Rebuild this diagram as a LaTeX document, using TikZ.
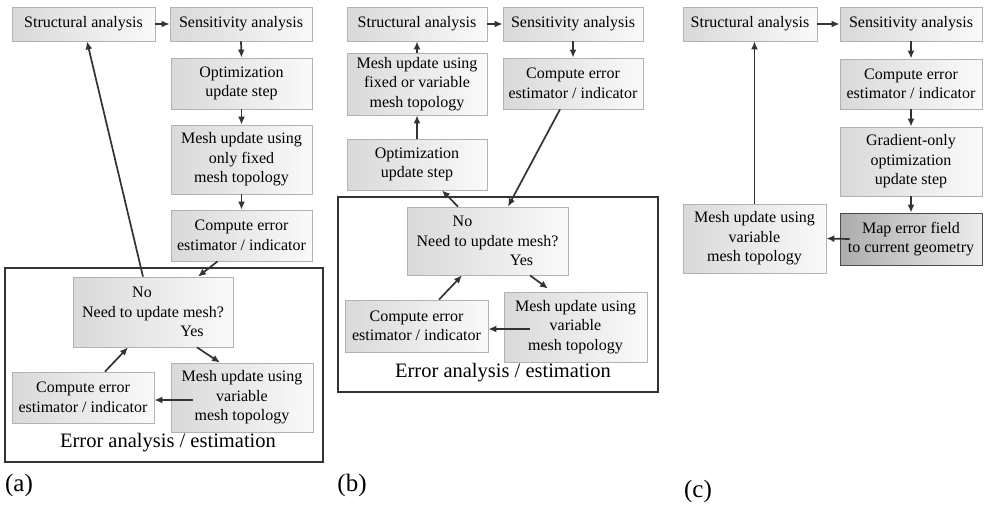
\documentclass[tikz,border=0pt]{standalone}
\usepackage{fontspec}
\setmainfont{Liberation Serif}
\usetikzlibrary{arrows.meta,calc}
\newcommand{\boxfont}{\rmfamily\fontsize{16}{19.5}\selectfont}
\newcommand{\bigfont}{\rmfamily\fontsize{20.5}{24}\selectfont}
\newcommand{\labfont}{\rmfamily\fontsize{25}{28}\selectfont}
\tikzset{
  fbox/.style={draw=gray!60, line width=0.8pt, left color=gray!30, right color=gray!4,
    font=\boxfont, align=center, inner sep=1pt, text=black},
  darkbox/.style={fbox, draw=black!70, left color=gray!65, right color=gray!15},
  arr/.style={-{Latex[length=8pt,width=7pt]}, line width=1.7pt, draw=black!80},
  frame/.style={draw=black!80, line width=1.8pt},
  etext/.style={font=\bigfont, inner sep=0pt},
  ltext/.style={font=\labfont, inner sep=0pt}
}
\begin{document}
\begin{tikzpicture}[x=1pt,y=-1pt]
\useasboundingbox[fill=white] (0,0) rectangle (987,507);

% ---------------- (a) ----------------
\draw[frame] (5,268) rectangle (323,462);
\node[fbox, minimum width=143pt, minimum height=34pt] (sa1) at (83.5,24) {Structural analysis};
\node[fbox, minimum width=142pt, minimum height=34pt] (sens1) at (241,24) {Sensitivity analysis};
\node[fbox, minimum width=141pt, minimum height=51pt] (op1) at (241.5,83.5) {Optimization\\update step};
\node[fbox, minimum width=141pt, minimum height=69pt] (mo1) at (241.5,159.5) {Mesh update using\\only fixed\hspace*{34pt}\\mesh topology};
\node[fbox, minimum width=141pt, minimum height=51pt] (ce1) at (241.5,235.5) {Compute error\\estimator / indicator};
\node[fbox, minimum width=160pt, minimum height=70pt] (need1) at (153,312) {No\hspace*{22pt}\\Need to update mesh?\\\hspace*{78pt}Yes};
\node[fbox, minimum width=142pt, minimum height=51pt] (ci1) at (83,397.5) {Compute error\\estimator / indicator};
\node[fbox, minimum width=142pt, minimum height=69pt] (mv1) at (242,397.5) {Mesh update using\\variable\hspace*{10pt}\\mesh topology};
\node[etext] (ea1) at (168,443) {Error analysis / estimation};
\node[ltext] (la) at (19,485) {(a)};

\draw[arr] (sa1.east) -- (sens1.west);
\draw[arr] (sens1.south) -- (op1.north);
\draw[arr] (op1.south) -- (mo1.north);
\draw[arr] (mo1.south) -- (ce1.north);
\draw[arr] ([xshift=-24pt]ce1.south) -- ([xshift=45pt]need1.north);
\draw[arr] ([xshift=-10pt]need1.north) -- ([xshift=3.5pt]sa1.south);
\draw[arr] ([xshift=44pt]need1.south) -- ([xshift=-22pt]mv1.north);
\draw[arr] ([xshift=22pt,yshift=-2.5pt]mv1.west) -- ([yshift=-2.5pt]ci1.east);
\draw[arr] ([xshift=22pt]ci1.north) -- ([xshift=-25pt]need1.south);

% ---------------- (b) ----------------
\draw[frame] (338,197) rectangle (658,392);
\node[fbox, minimum width=140pt, minimum height=34pt] (sa2) at (417,24) {Structural analysis};
\node[fbox, minimum width=140pt, minimum height=34pt] (sens2) at (573,24) {Sensitivity analysis};
\node[fbox, minimum width=140pt, minimum height=62pt] (mf2) at (417,84) {Mesh update using\\fixed or variable\\mesh topology};
\node[fbox, minimum width=140pt, minimum height=51pt] (op2) at (417,164.5) {Optimization\\update step};
\node[fbox, minimum width=140pt, minimum height=51pt] (ce2) at (573,83.5) {Compute error\\estimator / indicator};
\node[fbox, minimum width=161pt, minimum height=68pt] (need2) at (487.5,241) {No\hspace*{50pt}\\Need to update mesh?\\\hspace*{68pt}Yes};
\node[fbox, minimum width=143pt, minimum height=52pt] (ci2) at (416.5,326) {Compute error\\estimator / indicator};
\node[fbox, minimum width=143pt, minimum height=70pt] (mv2) at (575.5,327) {Mesh update using\\variable\\mesh topology};
\node[etext] (ea2) at (503,373) {Error analysis / estimation};
\node[ltext] (lb) at (352,485) {(b)};

\draw[arr] (sa2.east) -- (sens2.west);
\draw[arr] (sens2.south) -- (ce2.north);
\draw[arr] (op2.north) -- (mf2.south);
\draw[arr] (mf2.north) -- (sa2.south);
\draw[arr] ([xshift=-13pt]ce2.south) -- ([xshift=20.5pt]need2.north);
\draw[arr] ([xshift=-29.5pt]need2.north) -- ([xshift=25pt]op2.south);
\draw[arr] ([xshift=42.5pt]need2.south) -- ([xshift=-27.5pt,yshift=3pt]mv2.north);
\draw[arr] ([xshift=26pt,yshift=-2pt]mv2.west) -- ([yshift=-3pt]ci2.east);
\draw[arr] ([xshift=22.5pt]ci2.north) -- ([xshift=-25.5pt]need2.south);

% ---------------- (c) ----------------
\node[fbox, minimum width=134pt, minimum height=34pt] (sa3) at (750,24) {Structural analysis};
\node[fbox, minimum width=142pt, minimum height=34pt] (sens3) at (911,24) {Sensitivity analysis};
\node[fbox, minimum width=142pt, minimum height=50pt] (ce3) at (911,84) {Compute error\\estimator / indicator};
\node[fbox, minimum width=142pt, minimum height=69pt] (go3) at (911,161.5) {Gradient-only\\optimization\\update step};
\node[darkbox, minimum width=142pt, minimum height=52pt] (me3) at (911,239) {Map error field\\to current geometry};
\node[fbox, minimum width=143pt, minimum height=69pt] (mv3) at (754.5,238.5) {Mesh update using\\variable\\mesh topology};
\node[ltext] (lc) at (698,491) {(c)};

\draw[arr] (sa3.east) -- (sens3.west);
\draw[arr] (sens3.south) -- (ce3.north);
\draw[arr] (ce3.south) -- (go3.north);
\draw[arr] (go3.south) -- (me3.north);
\draw[arr] ([xshift=10pt]me3.west) -- (mv3.east);
\draw[arr] (mv3.north) -- (mv3.north |- sa3.south);
\end{tikzpicture}
\end{document}
